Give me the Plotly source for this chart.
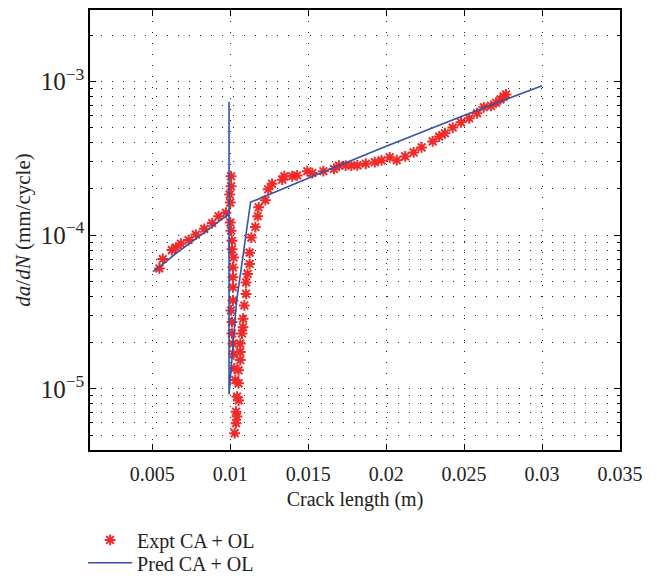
import plotly.graph_objects as go

# Experimental CA + OL data (crack length in m, da/dN in mm/cycle)
expt_x = [0.00545, 0.00567, 0.00625, 0.00651, 0.00683, 0.00732, 0.00779, 0.00833, 0.00884, 0.00925, 0.00972,
          0.01005, 0.01005, 0.00996, 0.01000, 0.01000, 0.01005, 0.01011, 0.01011, 0.01021, 0.01017, 0.01017,
          0.01017, 0.01017, 0.01005, 0.01011, 0.01011, 0.01017, 0.01021, 0.01026, 0.01032, 0.01053, 0.01043,
          0.01053, 0.01037, 0.01043, 0.01037, 0.01028,
          0.01053, 0.01064, 0.01064, 0.01064, 0.01075, 0.01082, 0.01082, 0.01090, 0.01101, 0.01101, 0.01111,
          0.01124, 0.01124, 0.01135, 0.01161, 0.01176, 0.01182, 0.01225, 0.01243, 0.01268, 0.01333, 0.01347,
          0.01397, 0.01429,
          0.01494, 0.01526, 0.01597, 0.01665, 0.01697, 0.01740, 0.01777, 0.01815, 0.01869, 0.01927, 0.01970,
          0.02023, 0.02068, 0.02122, 0.02176, 0.02227, 0.02298, 0.02340, 0.02377, 0.02427, 0.02480, 0.02533,
          0.02583, 0.02626, 0.02673, 0.02705, 0.02733, 0.02754, 0.02769]
expt_y = [6.08e-5, 7.0e-5, 8.0e-5, 8.3e-5, 8.8e-5, 9.3e-5, 1.01e-4, 1.10e-4, 1.20e-4, 1.33e-4, 1.40e-4,
          2.42e-4, 2.08e-4, 1.84e-4, 1.63e-4, 1.21e-4, 1.07e-4, 9.2e-5, 8.1e-5, 7.16e-5, 6.17e-5, 5.32e-5,
          4.58e-5, 3.76e-5, 3.24e-5, 2.72e-5, 2.29e-5, 1.97e-5, 1.68e-5, 1.36e-5, 1.14e-5, 1.086e-5, 8.9e-6,
          8.4e-6, 7.1e-6, 6.6e-6, 5.98e-6, 5.15e-6,
          1.32e-5, 1.54e-5, 1.74e-5, 1.97e-5, 2.29e-5, 2.52e-5, 2.86e-5, 3.49e-5, 4.15e-5, 4.93e-5, 5.6e-5,
          6.5e-5, 7.7e-5, 9.65e-5, 1.13e-4, 1.33e-4, 1.52e-4, 1.69e-4, 1.99e-4, 2.16e-4, 2.30e-4, 2.42e-4,
          2.42e-4, 2.45e-4,
          2.61e-4, 2.54e-4, 2.61e-4, 2.70e-4, 2.84e-4, 2.84e-4, 2.84e-4, 2.85e-4, 2.92e-4, 2.99e-4, 3.07e-4,
          3.21e-4, 3.08e-4, 3.26e-4, 3.46e-4, 3.73e-4, 4.08e-4, 4.39e-4, 4.61e-4, 5.02e-4, 5.43e-4, 5.77e-4,
          6.22e-4, 6.80e-4, 6.94e-4, 7.29e-4, 7.66e-4, 7.98e-4, 8.25e-4]

# Predicted CA + OL curve
pred_x = [0.00503, 0.0057, 0.0065, 0.0075, 0.0085, 0.0093, 0.00992, 0.00992, 0.00992, 0.0104, 0.0113,
          0.0158, 0.0200, 0.0249, 0.0300]
pred_y = [5.8e-5, 6.5e-5, 7.6e-5, 9.0e-5, 1.07e-4, 1.24e-4, 1.37e-4, 7.4e-4, 9.2e-6, 3.7e-5, 1.64e-4,
          2.54e-4, 3.8e-4, 5.97e-4, 9.4e-4]

x_ticks = [0.005, 0.01, 0.015, 0.02, 0.025, 0.03, 0.035]
x_tick_text = ["0.005", "0.01", "0.015", "0.02", "0.025", "0.03", "0.035"]

FONT = "Liberation Serif"
GRID = dict(gridcolor="#222222", griddash="1px,10px", gridwidth=1)

fig = go.Figure()
fig.add_trace(go.Scatter(
    x=expt_x, y=expt_y, mode="markers", name="Expt CA + OL", legend="legend",
    marker=dict(symbol="asterisk-open", size=9, color="#ee2a2a",
                line=dict(color="#ee2a2a", width=2)),
))
fig.add_trace(go.Scatter(
    x=pred_x, y=pred_y, mode="lines", name="Pred CA + OL", legend="legend2",
    line=dict(color="#3552a6", width=1.6),
))

LEG = dict(xanchor="left", yanchor="top", font=dict(family=FONT, size=20, color="#222222"),
           bgcolor="rgba(0,0,0,0)", itemwidth=44)

fig.update_layout(
    width=657, height=582,
    margin=dict(l=82, r=45, t=0, b=140),
    paper_bgcolor="white", plot_bgcolor="white",
    font=dict(family=FONT, size=20, color="#222222"),
    showlegend=True,
    legend=dict(x=-0.013, y=-0.16, **LEG),
    legend2=dict(x=-0.013, y=-0.212, **LEG),
)
fig.update_xaxes(
    range=[0.001, 0.035], tickvals=x_ticks, ticktext=x_tick_text,
    tickfont=dict(family=FONT, size=20), ticklabelstandoff=5,
    showline=True, linecolor="black", linewidth=1.5, mirror="ticks",
    ticks="inside", ticklen=6, tickcolor="black",
    showgrid=True, **GRID, zeroline=False,
    title=dict(text="Crack length (m)", standoff=8, font=dict(size=20)),
)
fig.update_yaxes(
    type="log", range=[-5.398, -2.534], dtick=1,
    exponentformat="power", showexponent="all",
    tickfont=dict(family=FONT, size=20),
    showline=True, linecolor="black", linewidth=1.5, mirror="ticks",
    ticks="inside", ticklen=6, tickcolor="black",
    showgrid=True, **GRID, zeroline=False,
    minor=dict(dtick="D1", ticks="inside", ticklen=3, tickcolor="black",
               showgrid=True, gridcolor="#222222", griddash="1px,10px", gridwidth=1),
    title=dict(text="<i>da</i>/<i>dN</i> (mm/cycle)", standoff=4, font=dict(size=21)),
)

fig.write_html("out.html")
